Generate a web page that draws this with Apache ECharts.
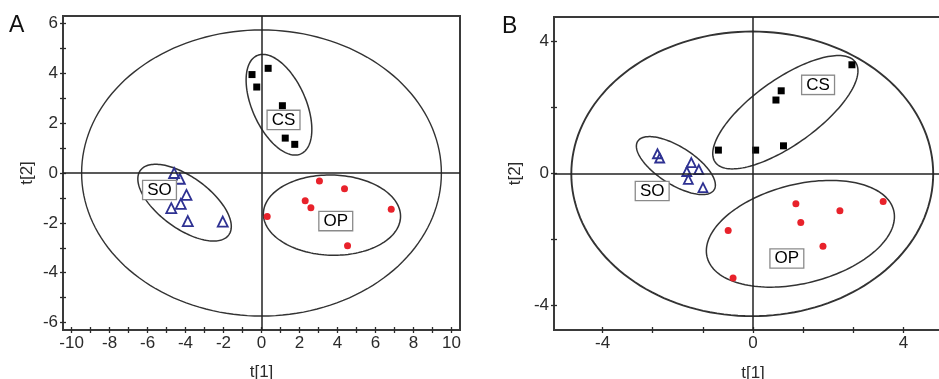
<!DOCTYPE html>
<html><head><meta charset="utf-8">
<script src="https://cdn.jsdelivr.net/npm/echarts@6/dist/echarts.min.js"></script>
<style>html,body{margin:0;padding:0;background:#fff}#c{width:939px;height:379px}</style>
</head><body><div id="c"></div>
<script>
// ---------- Panel A ----------
const aCS = [[-0.5,3.95],[0.35,4.2],[-0.25,3.45],[1.1,2.7],[1.25,1.4],[1.75,1.15]];
const aSO = [[-4.6,0],[-4.3,-0.23],[-3.95,-0.88],[-4.25,-1.24],[-4.75,-1.41],[-3.88,-1.93],[-2.04,-1.95]];
const aOP = [[0.3,-1.75],[2.3,-1.11],[2.6,-1.39],[3.05,-0.32],[4.37,-0.63],[6.83,-1.45],[4.53,-2.92]];
// ellipses: [centre x, centre y, half-width x, half-height y, correlation]
const aEllipses = [[0,0,9.47,5.74,0],[0.92,2.74,1.73,2.02,-0.49],[-4.05,-1.19,2.46,1.54,-0.62],[3.71,-1.69,3.61,1.61,-0.03]];
const aLabels = [[1.16,2.13,'CS'],[-5.37,-0.68,'SO'],[3.91,-1.93,'OP']];
const aXRange = [-10.45,10.45];
const aYRange = [-6.3,6.3];
const aXLabels = [-10,-8,-6,-4,-2,0,2,4,6,8,10];
const aXTicks = [-10,-9,-8,-7,-6,-5,-4,-3,-2,-1,0,1,2,3,4,5,6,7,8,9,10];
const aYLabels = [-6,-4,-2,0,2,4,6];
const aYTicks = [-6,-5,-4,-3,-2,-1,0,1,2,3,4,5,6];

// ---------- Panel B ----------
const bCS = [[-0.92,0.71],[0.07,0.71],[0.81,0.84],[0.61,2.23],[0.75,2.51],[2.63,3.30]];
const bSO = [[-2.54,0.60],[-2.48,0.47],[-1.64,0.33],[-1.44,0.12],[-1.76,0.06],[-1.72,-0.18],[-1.33,-0.43]];
const bOP = [[1.14,-0.92],[2.31,-1.13],[3.46,-0.85],[1.27,-1.49],[-0.66,-1.73],[1.86,-2.21],[-0.53,-3.17]];
const bEllipses = [[-0.02,-0.01,4.81,4.32,0],[0.86,1.86,1.93,1.72,0.73],[-2.05,0.24,1.05,0.88,-0.67],[1.26,-1.83,2.50,1.62,0.32]];
const bLabels = [[1.73,2.69,'CS'],[-2.68,-0.53,'SO'],[0.90,-2.58,'OP']];
const bXRange = [-5.29,5.29];
const bYRange = [-4.75,4.75];
const bXLabels = [-4,0,4];
const bXTicks = [-4,-2.6667,-1.3333,0,1.3333,2.6667,4];
const bYLabels = [-4,0,4];
const bYTicks = [-4,-2,0,2,4];

const FONT = 'Liberation Sans, Arial, sans-serif';
const INK = '#2b2b2b';

function mainAxis(range, labels, ticks, gridIndex, name, gap, pos) {
  return {
    type:'value', gridIndex, min:range[0], max:range[1], position:pos,
    name, nameLocation:'middle', nameGap:gap,
    nameTextStyle:{fontFamily:FONT, fontSize:17, color:INK},
    axisLine:{show:false, onZero:false}, splitLine:{show:false},
    axisTick:{show:true, inside:false, length:3, customValues:ticks, lineStyle:{color:INK, width:1.3}},
    axisLabel:{show:true, customValues:labels, margin:5, fontFamily:FONT, fontSize:17, color:INK},
  };
}
function innerAxis(range, ticks, gridIndex, pos) {
  return {
    type:'value', gridIndex, min:range[0], max:range[1], position:pos,
    axisLine:{show:false, onZero:false}, splitLine:{show:false}, axisLabel:{show:false},
    axisTick:{show:true, inside:true, length:3, customValues:ticks, lineStyle:{color:INK, width:1.3}},
  };
}

function ellipseItem(lw) {
  return function(params, api) {
    const cx = api.value(0), cy = api.value(1), rx = api.value(2), ry = api.value(3), rho = api.value(4);
    const s = Math.sqrt(1 - rho*rho);
    const pts = [];
    for (let i = 0; i < 160; i++) {
      const t = i / 160 * 2 * Math.PI;
      pts.push(api.coord([cx + rx*Math.cos(t), cy + ry*(rho*Math.cos(t) + s*Math.sin(t))]));
    }
    return {type:'polygon', shape:{points:pts}, style:{fill:'none', stroke:'#333', lineWidth: params.dataIndex === 0 ? lw : 1.5}};
  };
}

function panelSeries(xi, yi, cs, so, op, ells, labs, bigLw, sym) {
  return [
    {type:'custom', xAxisIndex:xi, yAxisIndex:yi, data:ells, renderItem:ellipseItem(bigLw), clip:false, silent:true, z:1},
    {type:'scatter', xAxisIndex:xi, yAxisIndex:yi, data:cs, symbol:'rect', symbolSize:sym.sq,
      itemStyle:{color:'#000', opacity:1}, z:3,
      markLine:{silent:true, symbol:'none', label:{show:false},
        lineStyle:{color:'#222', width:1.5, type:'solid'},
        data:[{xAxis:0},{yAxis:0}]}},
    {type:'scatter', xAxisIndex:xi, yAxisIndex:yi, data:so, symbol:'triangle', symbolSize:sym.tri,
      itemStyle:{color:'rgba(255,255,255,0)', borderColor:'#2e3192', borderWidth:1.8, opacity:1}, z:3},
    {type:'scatter', xAxisIndex:xi, yAxisIndex:yi, data:op, symbol:'circle', symbolSize:sym.ci,
      itemStyle:{color:'#e8222b', opacity:1}, z:3},
    {type:'scatter', xAxisIndex:xi, yAxisIndex:yi, data:labs, symbol:'rect', symbolSize:1,
      itemStyle:{color:'rgba(255,255,255,0)', opacity:1}, z:4, silent:true,
      label:{show:true, position:'inside', formatter:(p)=>p.data[2], opacity:1,
        fontFamily:FONT, fontSize:17, color:'#000', lineHeight:17,
        backgroundColor:'#fff', borderColor:'#8a8a8a', borderWidth:1.3, padding:[1,4,0,4]}},
  ];
}

const chart = echarts.init(document.getElementById('c'), null, {renderer:'canvas'});
chart.setOption({
  animation:false,
  backgroundColor:'#fff',
  grid:[
    {left:63, top:16, width:397, height:314, show:true, borderColor:'#3a3a3a', borderWidth:2, containLabel:false, outerBoundsMode:'none'},
    {left:554, top:17, width:398, height:313, show:true, borderColor:'#3a3a3a', borderWidth:2, containLabel:false, outerBoundsMode:'none'},
  ],
  xAxis:[
    mainAxis(aXRange, aXLabels, aXTicks, 0, 't[1]', 34, 'bottom'),
    innerAxis(aXRange, aXTicks, 0, 'bottom'),
    mainAxis(bXRange, bXLabels, bXTicks, 1, 't[1]', 35, 'bottom'),
    innerAxis(bXRange, bXTicks, 1, 'bottom'),
  ],
  yAxis:[
    mainAxis(aYRange, aYLabels, aYTicks, 0, 't[2]', 27, 'left'),
    innerAxis(aYRange, aYTicks, 0, 'left'),
    mainAxis(bYRange, bYLabels, bYTicks, 1, 't[2]', 30, 'left'),
    innerAxis(bYRange, bYTicks, 1, 'left'),
  ],
  graphic:[
    {type:'text', left:9, top:14, style:{text:'A', fontFamily:FONT, fontSize:23, fill:'#111'}},
    {type:'text', left:502, top:15, style:{text:'B', fontFamily:FONT, fontSize:23, fill:'#111'}},
  ],
  series:[
    ...panelSeries(0, 0, aCS, aSO, aOP, aEllipses, aLabels, 1.4, {sq:7, tri:10, ci:7}),
    ...panelSeries(2, 2, bCS, bSO, bOP, bEllipses, bLabels, 1.9, {sq:7, tri:9, ci:7}),
  ],
});
</script></body></html>
